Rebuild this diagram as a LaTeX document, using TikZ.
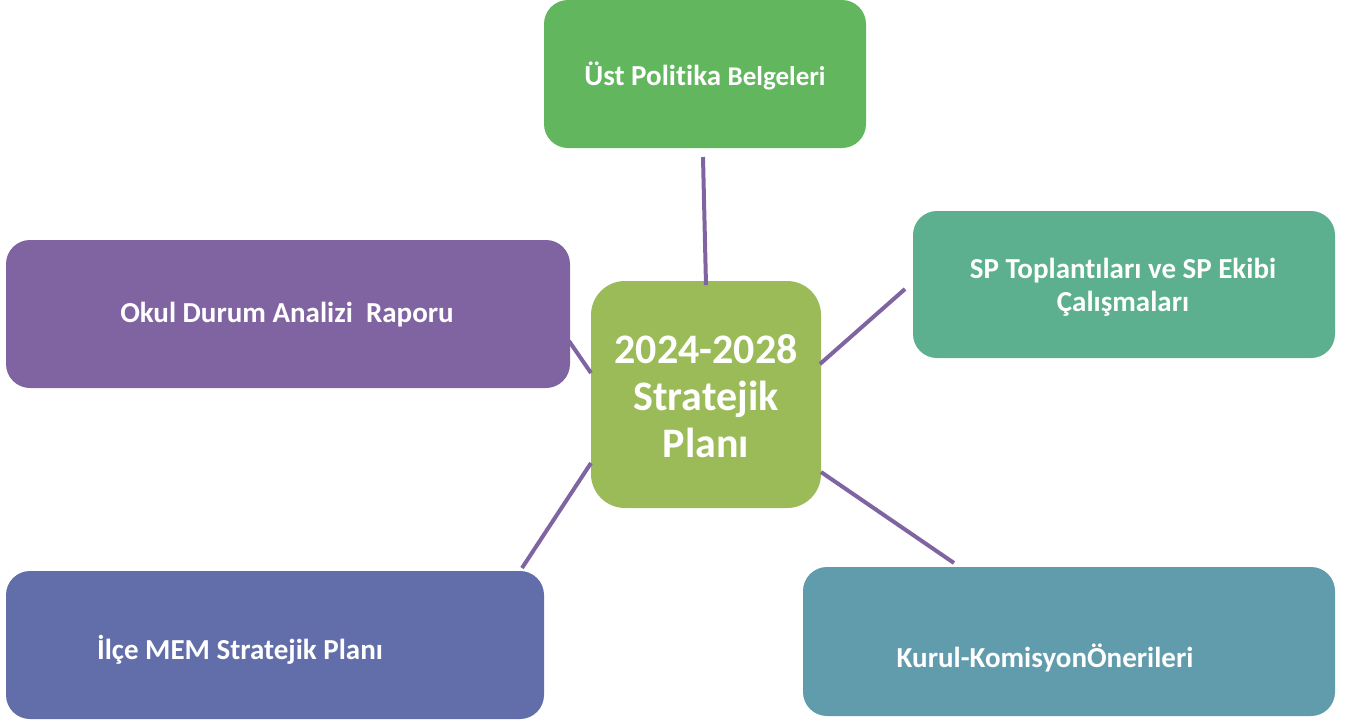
\documentclass[tikz,border=0pt]{standalone}
\usepackage{fontspec}
\setmainfont[Ligatures=NoCommon]{Carlito}
\definecolor{cTop}{HTML}{62B65E}
\definecolor{cSP}{HTML}{5CB08F}
\definecolor{cOkul}{HTML}{8064A2}
\definecolor{cMid}{HTML}{9BBB59}
\definecolor{cIlce}{HTML}{626EA9}
\definecolor{cKurul}{HTML}{609CAC}
\definecolor{cLine}{HTML}{8064A2}
\tikzset{
  box/.style={draw=none, rounded corners=24pt, inner sep=0pt},
  boxtext/.style={text=white, font=\fontsize{29}{33}\selectfont\bfseries, align=center, inner sep=0pt},
  midtext/.style={text=white, font=\fontsize{42}{47}\selectfont\bfseries, align=center, inner sep=0pt},
  conn/.style={draw=cLine, line width=4pt}
}
\begin{document}
\begin{tikzpicture}[x=1pt,y=-1pt]
\useasboundingbox (0,0) rectangle (1355,724);
% boxes
\node[box, fill=cTop, minimum width=322pt, minimum height=148pt] (top) at (705,74) {};
\node[box, fill=cSP, minimum width=422pt, minimum height=147pt] (sp) at (1124,284.5) {};
\node[box, fill=cOkul, minimum width=564pt, minimum height=148pt] (okul) at (288,314) {};
\node[box, fill=cMid, rounded corners=34pt, minimum width=230pt, minimum height=227pt] (mid) at (706,394.5) {};
\node[box, fill=cIlce, minimum width=538pt, minimum height=148pt] (ilce) at (275,645) {};
\node[box, fill=cKurul, minimum width=532pt, minimum height=149pt] (kurul) at (1069,641.5) {};
% texts
\node[boxtext] (toptext) at (705,76) {Üst Politika {\fontsize{27}{33}\selectfont Belgeleri}};
\node[boxtext] (sptext) at (1123,287) {SP Toplantıları ve SP Ekibi\\Çalışmaları};
\node[boxtext] (okultext) at (287,315) {Okul Durum Analizi\ \ Raporu};
\node[midtext] (midtext) at (706,396) {2024-2028\\Stratejik\\Planı};
\node[boxtext] (ilcetext) at (240,650) {İlçe MEM Stratejik Planı};
\node[boxtext] (kurultext) at (1045,658) {Kurul-KomisyonÖnerileri};
% connector end points
\coordinate (t1) at (703,157);
\coordinate (t2) at (706,285);
\coordinate (s1) at (905,289);
\coordinate (s2) at (820,364);
\coordinate (o1) at (569,341);
\coordinate (o2) at (591,373);
\coordinate (i1) at (591,463);
\coordinate (i2) at (522,568);
\coordinate (k1) at (821,472);
\coordinate (k2) at (954,563);
% connectors
\draw[conn] (t1) -- (t2);
\draw[conn] (s1) -- (s2);
\draw[conn] (o1) -- (o2);
\draw[conn] (i1) -- (i2);
\draw[conn] (k1) -- (k2);
\end{tikzpicture}
\end{document}
